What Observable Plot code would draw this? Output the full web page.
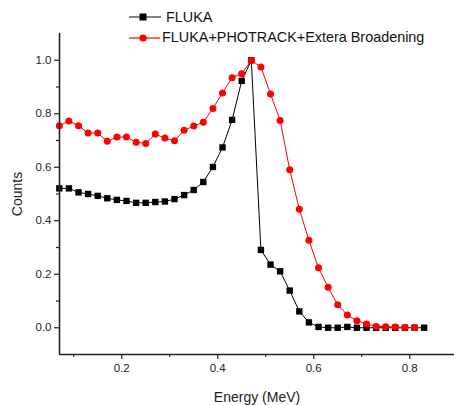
<!DOCTYPE html>
<html>
<head>
<meta charset="utf-8">
<script src="https://cdn.jsdelivr.net/npm/d3@7"></script>
<script src="https://cdn.jsdelivr.net/npm/@observablehq/plot@0.6"></script>
<style>
  body { margin: 0; background: #fff; }
  #wrap { position: relative; width: 454px; height: 405px; font-family: "Liberation Sans", Arial, sans-serif; }
  #legend { position: absolute; left: 0; top: 0; font-size: 14.4px; color: #111; }
  .row { position: absolute; white-space: nowrap; }
  .row svg { position: absolute; }
  .row span { position: absolute; line-height: 1; }
</style>
</head>
<body>
<div id="wrap"></div>
<script>
// ---- data ----
const seriesNames = ["FLUKA", "FLUKA+PHOTRACK+Extera Broadening"];

const flukaEnergy = [0.07,0.09,0.11,0.13,0.15,0.17,0.19,0.21,0.23,0.25,0.27,0.29,0.31,0.33,0.35,0.37,0.39,0.41,0.43,0.45,0.47,
  0.49,0.51,0.53,0.55,0.57,0.59,0.61,0.63,0.65,0.67,0.69,0.71,0.73,0.75,0.77,0.79,0.81,0.83];
const flukaCounts = [0.521,0.521,0.506,0.500,0.493,0.484,0.478,0.474,0.467,0.467,0.470,0.472,0.481,0.496,0.515,0.545,0.601,0.674,0.777,0.923,1.0,
  0.291,0.236,0.211,0.139,0.061,0.020,0.003,0.0,0.0,0.003,0.0,0.0,0.0,0.0,0.0,0.0,0.0,0.0];

const broadEnergy = [0.07,0.09,0.11,0.13,0.15,0.17,0.19,0.21,0.23,0.25,0.27,0.29,0.31,0.33,0.35,0.37,0.39,0.41,0.43,0.45,0.47,
  0.49,0.51,0.53,0.55,0.57,0.59,0.61,0.63,0.65,0.67,0.69,0.71,0.73,0.75,0.77,0.79,0.81];
const broadCounts = [0.755,0.773,0.755,0.728,0.728,0.697,0.713,0.713,0.693,0.689,0.724,0.709,0.699,0.738,0.754,0.768,0.820,0.878,0.935,0.950,0.999,
  0.975,0.874,0.775,0.591,0.443,0.327,0.224,0.151,0.086,0.048,0.026,0.014,0.005,0.004,0.003,0.001,0.001];

const xMajorTicks = [0.2, 0.4, 0.6, 0.8];
const xMinorTicks = [0.1, 0.3, 0.5, 0.7];
const yMajorTicks = [0.0, 0.2, 0.4, 0.6, 0.8, 1.0];
const yMinorTicks = [0.1, 0.3, 0.5, 0.7, 0.9];
const xDomain = [0.0704, 0.8933];
const yDomain = [-0.1, 1.1];

const fluka = flukaEnergy.map((e, i) => ({energy: e, counts: flukaCounts[i]}));
const broad = broadEnergy.map((e, i) => ({energy: e, counts: broadCounts[i]}));

const axisColor = "#222";

const chart = Plot.plot({
  width: 454,
  height: 405,
  marginLeft: 59,
  marginRight: 0,
  marginTop: 33,
  marginBottom: 51,
  style: {fontFamily: "Liberation Sans, Arial, sans-serif", fontSize: "11.5px", color: "#222", background: "#fff", overflow: "visible"},
  x: {domain: xDomain},
  y: {domain: yDomain},
  marks: [
    Plot.line(fluka, {x: "energy", y: "counts", stroke: "#000", strokeWidth: 1}),
    Plot.dot(fluka, {x: "energy", y: "counts", symbol: "square", r: 3.6, fill: "#000", stroke: "none"}),
    Plot.line(broad, {x: "energy", y: "counts", stroke: "#ff0000", strokeWidth: 1}),
    Plot.dot(broad, {x: "energy", y: "counts", symbol: "circle", r: 3.5, fill: "#ff0000", stroke: "none"}),
    Plot.axisX({ticks: xMajorTicks, tickSize: 5, tickPadding: 4, tickFormat: d3.format(".1f"), stroke: axisColor, strokeWidth: 1.2,
      label: "Energy (MeV)", labelAnchor: "center", labelArrow: "none", labelOffset: 47, fontSize: 11.5}),
    Plot.axisX({ticks: xMinorTicks, tickSize: 3, text: null, label: null, stroke: axisColor, strokeWidth: 1.2}),
    Plot.axisY({ticks: yMajorTicks, tickSize: 5, tickPadding: 3, tickFormat: d3.format(".1f"), stroke: axisColor, strokeWidth: 1.2,
      label: "Counts", labelAnchor: "center", labelArrow: "none", labelOffset: 47, fontSize: 11.5}),
    Plot.axisY({ticks: yMinorTicks, tickSize: 3, text: null, label: null, stroke: axisColor, strokeWidth: 1.2}),
    Plot.ruleX([xDomain[0]], {stroke: axisColor, strokeWidth: 1.6}),
    Plot.ruleY([yDomain[0]], {stroke: axisColor, strokeWidth: 1.6})
  ]
});

// enlarge axis labels
chart.querySelectorAll("g[aria-label='x-axis label'] text, g[aria-label='y-axis label'] text").forEach(t => t.setAttribute("font-size", "14px"));

const wrap = document.getElementById("wrap");
wrap.appendChild(chart);

// ---- legend (HTML overlay) ----
const legend = document.createElement("div");
legend.id = "legend";
legend.innerHTML = `
  <div class="row" style="left:129px;top:17px;">
    <svg width="34" height="10" style="left:0;top:-5px;overflow:visible">
      <line x1="0" y1="5" x2="32" y2="5" stroke="#333" stroke-width="1.2"/>
      <rect x="10.5" y="1.5" width="7" height="7" fill="#000"/>
    </svg>
    <span style="left:37px;top:-7.5px;">${seriesNames[0]}</span>
  </div>
  <div class="row" style="left:129px;top:37.5px;">
    <svg width="34" height="10" style="left:0;top:-5px;overflow:visible">
      <line x1="0" y1="5" x2="31" y2="5" stroke="#ff0000" stroke-width="1.2"/>
      <circle cx="14" cy="5" r="3.6" fill="#ff0000"/>
    </svg>
    <span style="left:33px;top:-7.5px;">${seriesNames[1]}</span>
  </div>`;
wrap.appendChild(legend);
</script>
</body>
</html>
